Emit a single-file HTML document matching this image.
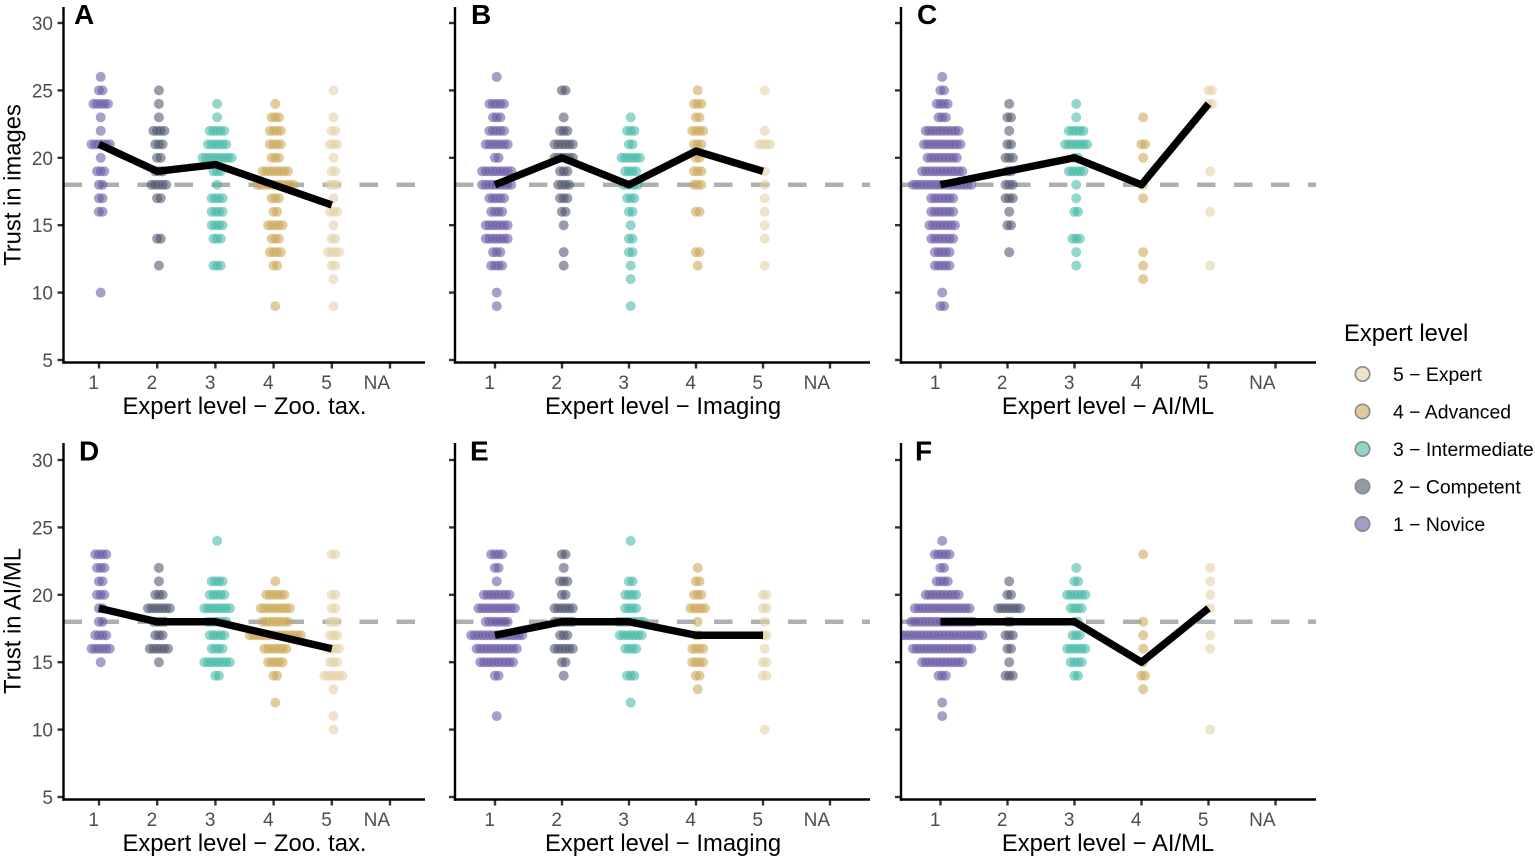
<!DOCTYPE html>
<html lang="en">
<head>
<meta charset="utf-8">
<title>Trust in images and AI/ML by expert level</title>
<style>
html,body{margin:0;padding:0;background:#fff;width:1535px;height:859px;overflow:hidden}
svg{display:block;font-family:"Liberation Sans",Arial,sans-serif}
</style>
</head>
<body>
<svg id="chart" xmlns="http://www.w3.org/2000/svg" width="1535" height="859" viewBox="0 0 1535 859">
  <rect width="1535" height="859" fill="#fff"/>
  <text transform="translate(20.5,185) rotate(-90)" text-anchor="middle" font-size="23.8" fill="#000">Trust in images</text>
  <text transform="translate(20.5,621) rotate(-90)" text-anchor="middle" font-size="23.8" fill="#000">Trust in AI/ML</text>
  <g>
    <text x="1344" y="341" font-size="23.8" fill="#000">Expert level</text>
    <g>
      <circle cx="1362.5" cy="374" r="7.2" fill="#efe3c9" stroke="#8a8a8a" stroke-width="1.6"/>
      <text x="1393" y="381" font-size="19.4" fill="#000">5 − Expert</text>
    </g>
    <g>
      <circle cx="1362.5" cy="411.5" r="7.2" fill="#e0ca9a" stroke="#8a8a8a" stroke-width="1.6"/>
      <text x="1393" y="418.5" font-size="19.4" fill="#000">4 − Advanced</text>
    </g>
    <g>
      <circle cx="1362.5" cy="449" r="7.2" fill="#8ed5ca" stroke="#8a8a8a" stroke-width="1.6"/>
      <text x="1393" y="456" font-size="19.4" fill="#000">3 − Intermediate</text>
    </g>
    <g>
      <circle cx="1362.5" cy="486.5" r="7.2" fill="#9499a8" stroke="#8a8a8a" stroke-width="1.6"/>
      <text x="1393" y="493.5" font-size="19.4" fill="#000">2 − Competent</text>
    </g>
    <g>
      <circle cx="1362.5" cy="524" r="7.2" fill="#a59bc8" stroke="#8a8a8a" stroke-width="1.6"/>
      <text x="1393" y="531" font-size="19.4" fill="#000">1 − Novice</text>
    </g>
  </g>
</svg>
<script>
// Axis labels
const yTicks = [5, 10, 15, 20, 25, 30];
const xCategories = ['1', '2', '3', '4', '5', 'NA'];
const referenceTrust = 18;

// Mean trust per expert level, one array per panel
const meansA = [21, 19, 19.5, 18, 16.5];
const meansB = [18, 20, 18, 20.5, 19];
const meansC = [18, 19, 20, 18, 24];
const meansD = [19, 18, 18, 17, 16];
const meansE = [17, 18, 18, 17, 17];
const meansF = [18, 18, 18, 15, 19];

// Dot stacks as [trust value, number of respondents]
const dotsA1 = [[26,1],[25,2],[24,5],[23,1],[22,1],[21,6],[20,1],[19,3],[18,2],[17,2],[16,2],[10,1]];
const dotsA2 = [[25,1],[24,1],[23,1],[22,4],[21,3],[20,2],[19,3],[18,5],[17,2],[14,2],[12,1]];
const dotsA3 = [[24,1],[23,1],[22,5],[21,6],[20,9],[19,3],[18,1],[17,4],[16,4],[15,4],[14,3],[12,3]];
const dotsA4 = [[24,1],[23,3],[22,4],[21,4],[20,3],[19,8],[18,11],[17,3],[16,2],[15,5],[14,3],[13,4],[12,2],[9,1]];
const dotsA5 = [[25,1],[23,1],[22,2],[21,3],[20,1],[19,2],[18,3],[17,1],[16,3],[15,1],[14,2],[13,4],[12,2],[11,1],[9,1]];

const dotsB1 = [[26,1],[24,5],[23,3],[22,5],[21,7],[20,2],[19,9],[18,9],[17,5],[16,4],[15,7],[14,7],[13,3],[12,4],[10,1],[9,1]];
const dotsB2 = [[25,2],[23,1],[22,3],[21,6],[20,6],[19,3],[18,4],[17,3],[16,2],[15,1],[13,1],[12,1]];
const dotsB3 = [[23,1],[22,3],[21,2],[20,6],[19,4],[18,5],[17,3],[16,2],[15,1],[14,2],[13,2],[12,1],[11,1],[9,1]];
const dotsB4 = [[25,1],[24,3],[23,2],[22,4],[21,3],[20,2],[19,3],[18,3],[16,2],[13,2],[12,1]];
const dotsB5 = [[25,1],[22,1],[21,4],[19,1],[18,1],[17,1],[16,1],[15,1],[14,1],[12,1]];

const dotsC1 = [[26,1],[25,2],[24,4],[23,3],[22,10],[21,11],[20,9],[19,12],[18,17],[17,7],[16,7],[15,8],[14,7],[13,5],[12,5],[10,1],[9,2]];
const dotsC2 = [[24,1],[23,2],[22,1],[21,2],[20,3],[19,2],[18,3],[17,3],[16,1],[15,2],[13,1]];
const dotsC3 = [[24,1],[23,1],[22,5],[21,7],[20,2],[19,5],[18,1],[17,1],[16,2],[14,3],[13,1],[12,1]];
const dotsC4 = [[23,1],[21,2],[20,1],[18,1],[17,1],[13,1],[12,1],[11,1]];
const dotsC5 = [[25,2],[24,2],[19,1],[16,1],[12,1]];

const dotsD1 = [[23,4],[22,3],[21,2],[20,3],[19,2],[18,2],[17,4],[16,6],[15,1]];
const dotsD2 = [[22,1],[21,1],[20,3],[19,7],[18,4],[17,3],[16,6],[15,1]];
const dotsD3 = [[24,1],[21,4],[20,5],[19,8],[18,6],[17,5],[16,4],[15,8],[14,2]];
const dotsD4 = [[21,1],[20,6],[19,9],[18,8],[17,15],[16,7],[15,5],[14,2],[12,1]];
const dotsD5 = [[23,2],[20,2],[19,2],[18,3],[17,3],[16,4],[15,3],[14,6],[13,1],[11,1],[10,1]];

const dotsE1 = [[23,4],[22,2],[21,1],[20,8],[19,11],[18,7],[17,15],[16,12],[15,10],[14,2],[11,1]];
const dotsE2 = [[23,2],[22,1],[21,3],[20,2],[19,6],[18,6],[17,3],[16,6],[15,2],[14,1]];
const dotsE3 = [[24,1],[21,2],[20,4],[19,4],[18,8],[17,7],[16,4],[14,3],[12,1]];
const dotsE4 = [[22,1],[21,2],[20,3],[19,5],[18,1],[17,2],[16,4],[15,4],[14,2],[13,1]];
const dotsE5 = [[20,2],[19,2],[18,1],[17,2],[16,1],[15,2],[14,2],[10,1]];

const dotsF1 = [[24,1],[23,5],[22,2],[21,4],[20,10],[19,16],[18,18],[17,23],[16,17],[15,12],[14,3],[12,1],[11,1]];
const dotsF2 = [[21,1],[20,2],[19,7],[18,2],[17,3],[16,2],[15,1],[14,3]];
const dotsF3 = [[22,1],[21,2],[20,6],[19,4],[18,2],[17,3],[16,6],[15,4],[14,2]];
const dotsF4 = [[23,1],[18,1],[17,1],[16,1],[15,1],[14,2],[13,1]];
const dotsF5 = [[22,1],[21,1],[20,1],[19,1],[17,1],[16,1],[10,1]];

const levelColors = ['#6958a3', '#4d556e', '#43b9a7', '#cba757', '#e4d0a5'];

// Panel layout
const panels = [
  {id:'a', letter:'A', lx:74,  ly:24,  left:63.5,  right:425,  top:7,   bottom:362.5, y5:360, first:99,    step:58.2, title:'Expert level − Zoo. tax.', tx:244.5, ty:414, means:meansA, dots:[dotsA1,dotsA2,dotsA3,dotsA4,dotsA5]},
  {id:'b', letter:'B', lx:471, ly:24,  left:455,   right:870,  top:7,   bottom:362.5, y5:360, first:495,   step:67,   title:'Expert level − Imaging',   tx:663,   ty:414, means:meansB, dots:[dotsB1,dotsB2,dotsB3,dotsB4,dotsB5]},
  {id:'c', letter:'C', lx:917, ly:24,  left:901,   right:1316, top:7,   bottom:362.5, y5:360, first:940.5, step:67,   title:'Expert level − AI/ML',     tx:1108,  ty:414, means:meansC, dots:[dotsC1,dotsC2,dotsC3,dotsC4,dotsC5]},
  {id:'d', letter:'D', lx:79,  ly:460.5, left:63.5,  right:425,  top:443, bottom:799.5, y5:797, first:99,    step:58.2, title:'Expert level − Zoo. tax.', tx:244.5, ty:851, means:meansD, dots:[dotsD1,dotsD2,dotsD3,dotsD4,dotsD5]},
  {id:'e', letter:'E', lx:470, ly:460.5, left:455,   right:870,  top:443, bottom:799.5, y5:797, first:495,   step:67,   title:'Expert level − Imaging',   tx:663,   ty:851, means:meansE, dots:[dotsE1,dotsE2,dotsE3,dotsE4,dotsE5]},
  {id:'f', letter:'F', lx:915, ly:460.5, left:901,   right:1316, top:443, bottom:799.5, y5:797, first:940.5, step:67,   title:'Expert level − AI/ML',     tx:1108,  ty:851, means:meansF, dots:[dotsF1,dotsF2,dotsF3,dotsF4,dotsF5]}
];

const SVGNS = 'http://www.w3.org/2000/svg';
const root = document.getElementById('chart');
const PX_PER_UNIT = 13.48;
const DOT_R = 5;
const DOT_GAP = 3.65;
const DOT_SHIFT = 1.7;

function xScale(p, i) { return p.first + i * p.step; }
function yScale(p, v) { return p.y5 - (v - 5) * PX_PER_UNIT; }

function make(parent, tag, attrs) {
  const node = document.createElementNS(SVGNS, tag);
  for (const k in attrs) node.setAttribute(k, attrs[k]);
  parent.appendChild(node);
  return node;
}

panels.forEach(function (p) {
  const g = make(root, 'g', {});
  
  

  const defs = make(g, 'defs', {});
  const clip = make(defs, 'clipPath', {id: 'clip-' + p.id});
  make(clip, 'rect', {x: p.left, y: p.top, width: p.right - p.left, height: p.bottom - p.top});

  const ref = make(g, 'line', {x1: p.left, x2: p.right, y1: yScale(p, referenceTrust), y2: yScale(p, referenceTrust), stroke: '#adb0b0', 'stroke-width': 4.6, 'stroke-dasharray': '18.5 18.5'});
  
  

  const dotsGroup = make(g, 'g', {'clip-path': 'url(#clip-' + p.id + ')'});
  
  
  p.dots.forEach(function (rows, level) {
    rows.forEach(function (row) {
      const value = row[0], count = row[1];
      for (let k = 0; k < count; k++) {
        const cx = xScale(p, level) + DOT_SHIFT + (k - (count - 1) / 2) * DOT_GAP;
        const dot = make(dotsGroup, 'circle', {cx: cx, cy: yScale(p, value), r: DOT_R, fill: levelColors[level], 'fill-opacity': 0.58});
        
        
      }
    });
  });

  const pts = p.means.map(function (m, i) { return xScale(p, i) + ',' + yScale(p, m); }).join(' ');
  const meanLine = make(g, 'polyline', {points: pts, fill: 'none', stroke: '#000', 'stroke-width': 7.4, 'stroke-linejoin': 'round', 'stroke-linecap': 'butt'});
  
  

  yTicks.forEach(function (t) {
    const y = yScale(p, t);
    const mark = make(g, 'line', {x1: p.left - 6, x2: p.left, y1: y, y2: y, stroke: '#333', 'stroke-width': 2.4});
    
    
    if (p.left < 100) {
      const label = make(g, 'text', {x: p.left - 10.5, y: y + 7, 'text-anchor': 'end', 'font-size': 19, fill: '#4d4d4d'});
      label.textContent = t;
      
      
    }
  });

  xCategories.forEach(function (c, i) {
    const x = xScale(p, i);
    const mark = make(g, 'line', {x1: x, x2: x, y1: p.bottom, y2: p.bottom + 6, stroke: '#333', 'stroke-width': 2.4});
    
    
    const label = make(g, 'text', {x: x, y: p.bottom + 26.5, 'text-anchor': 'end', 'font-size': 19, fill: '#4d4d4d'});
    label.textContent = c;
    
    
  });

  const yAxis = make(g, 'line', {x1: p.left, x2: p.left, y1: p.top, y2: p.bottom + 1.2, stroke: '#000', 'stroke-width': 2.4});
  
  
  const xAxis = make(g, 'line', {x1: p.left - 1.2, x2: p.right, y1: p.bottom, y2: p.bottom, stroke: '#000', 'stroke-width': 2.4});
  
  

  const title = make(g, 'text', {x: p.tx, y: p.ty, 'text-anchor': 'middle', 'font-size': 23.8, fill: '#000'});
  title.textContent = p.title;
  
  

  const tag = make(g, 'text', {x: p.lx, y: p.ly, 'font-size': 28, 'font-weight': 'bold', fill: '#000'});
  tag.textContent = p.letter;
  
  
});
</script>
</body>
</html>
